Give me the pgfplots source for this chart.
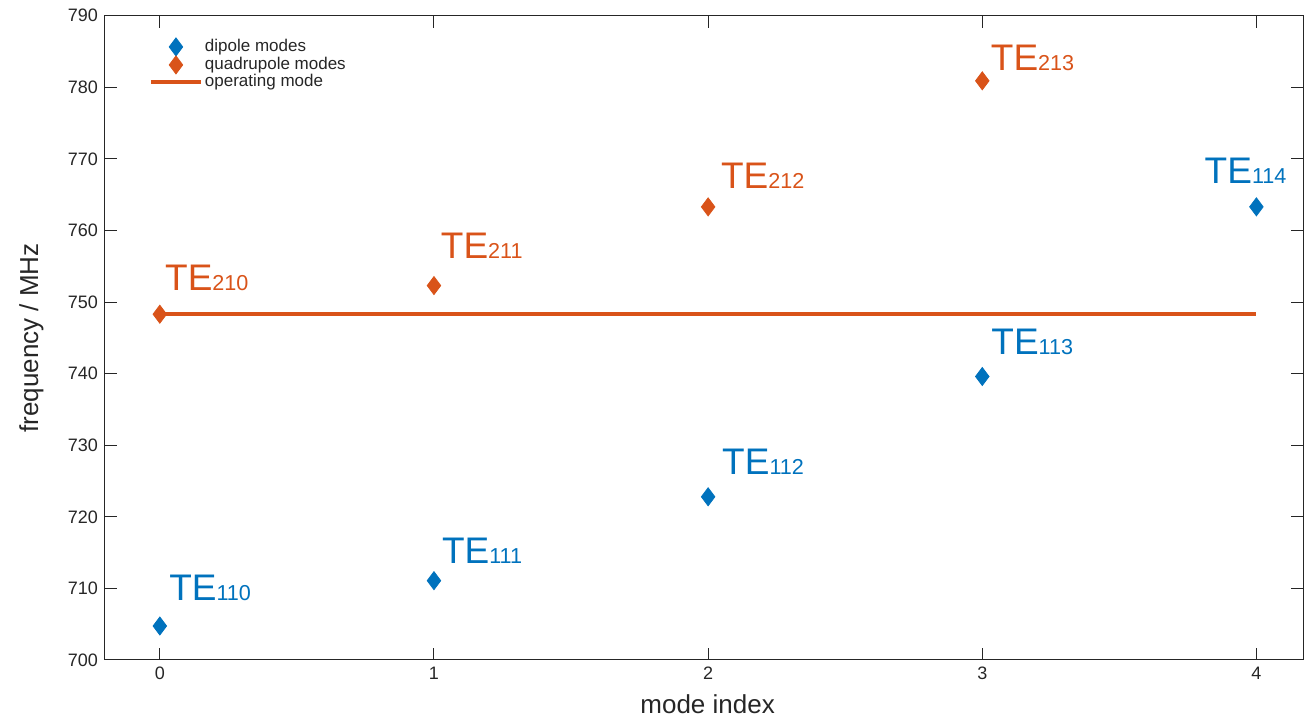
\documentclass[border=0pt]{standalone}
\usepackage{fontspec}
\setmainfont{Liberation Sans}
\usepackage{pgfplots}
\pgfplotsset{compat=1.18}
\definecolor{mblue}{RGB}{0,114,189}
\definecolor{morange}{RGB}{217,83,25}
\definecolor{axgray}{RGB}{38,38,38}
\newcommand{\TE}[1]{{\fontsize{18.5}{20}\selectfont TE}{\fontsize{10.8}{12}\selectfont #1}}
\pgfplotsset{mylegend/.style={legend image code/.code={\draw[mark repeat=2,mark phase=2,##1] plot coordinates {(0pt,0pt) (12.5pt,0pt) (25pt,0pt)};}}}
\begin{document}
\begin{tikzpicture}
\begin{axis}[
  mylegend,
  scale only axis, width=599pt, height=322.15pt,
  xmin=-0.2, xmax=4.17, ymin=700, ymax=790,
  xtick={0,1,2,3,4}, ytick={700,710,...,790},
  tick align=inside, major tick length=6pt,
  axis line style={axgray, line width=0.5pt},
  tick style={axgray, line width=0.5pt},
  ticklabel style={font=\fontsize{9}{10}\selectfont, text=axgray},
  /pgf/number format/assume math mode=true,
  xlabel={mode index}, ylabel={frequency / MHz},
  label style={font=\fontsize{13}{15}\selectfont, text=axgray},
  xlabel style={at={(axis description cs:0.503,0)}, anchor=base, yshift=-27pt},
  ylabel style={at={(axis description cs:-0.0559,0.5)}, anchor=base},
  clip=false,
  legend style={at={(axis cs:-0.0396,786.9)}, anchor=north west, draw=none, fill=none,
    font=\fontsize{8.5}{9}\selectfont, text=axgray, inner sep=0pt, outer sep=0pt,
    row sep=0pt, column sep=1pt,
    nodes={inner sep=0pt, text height=6.3pt, text depth=1.8pt}},
  legend cell align=left,
]
\addplot[only marks, mark=diamond*, mark size=4.5pt, color=mblue]
  coordinates {(0,704.75) (1,711.08) (2,722.8) (3,739.6) (4,763.3)};
\addlegendentry{dipole modes}
\addplot[only marks, mark=diamond*, mark size=4.5pt, color=morange]
  coordinates {(0,748.3) (1,752.3) (2,763.3) (3,780.9)};
\addlegendentry{quadrupole modes}
\addplot[morange, line width=2pt, mark=none]
  coordinates {(0,748.3) (4,748.3)};
\addlegendentry{operating mode}
\node[anchor=base west, inner sep=0pt, text=mblue] at (axis cs:0.033,708.38) {\TE{110}};
\node[anchor=base west, inner sep=0pt, text=mblue] at (axis cs:1.028,713.5) {\TE{111}};
\node[anchor=base west, inner sep=0pt, text=mblue] at (axis cs:2.05,725.98) {\TE{112}};
\node[anchor=base west, inner sep=0pt, text=mblue] at (axis cs:3.032,742.7) {\TE{113}};
\node[anchor=base west, inner sep=0pt, text=mblue] at (axis cs:3.81,766.5) {\TE{114}};
\node[anchor=base west, inner sep=0pt, text=morange] at (axis cs:0.018,751.6) {\TE{210}};
\node[anchor=base west, inner sep=0pt, text=morange] at (axis cs:1.024,756.1) {\TE{211}};
\node[anchor=base west, inner sep=0pt, text=morange] at (axis cs:2.046,765.9) {\TE{212}};
\node[anchor=base west, inner sep=0pt, text=morange] at (axis cs:3.03,782.3) {\TE{213}};
\path ([xshift=-52.5pt,yshift=-29pt]rel axis cs:0,0) rectangle ++(652pt,359pt);
\end{axis}
\end{tikzpicture}
\end{document}
